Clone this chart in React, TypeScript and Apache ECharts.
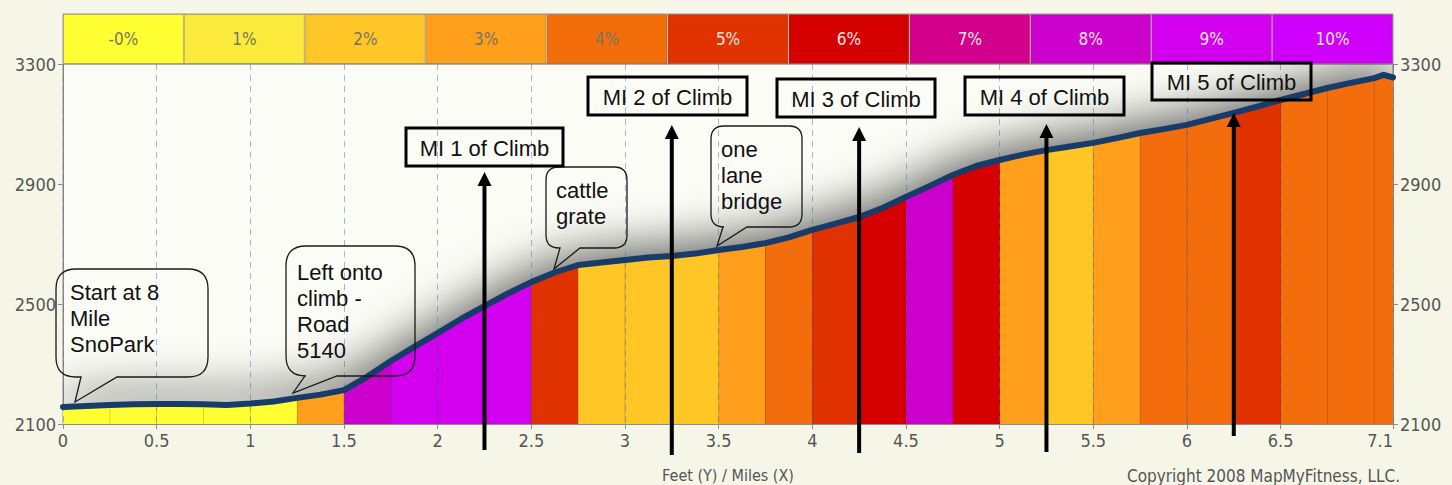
import React, { useEffect, useRef } from 'react';
import * as echarts from 'echarts';

// ---------------- data ----------------
const MILES = [
  0, 0.125, 0.25, 0.375, 0.5, 0.625, 0.75, 0.875, 1.0, 1.125, 1.25, 1.375, 1.5, 1.625, 1.75, 1.875,
  2.0, 2.125, 2.25, 2.375, 2.5, 2.625, 2.75, 2.875, 3.0, 3.125, 3.25, 3.375, 3.5, 3.625, 3.75, 3.875,
  4.0, 4.125, 4.25, 4.375, 4.5, 4.625, 4.75, 4.875, 5.0, 5.125, 5.25, 5.375, 5.5, 5.625, 5.75, 5.875,
  6.0, 6.125, 6.25, 6.375, 6.5, 6.625, 6.75, 6.875, 7.0, 7.05, 7.1,
];
const ELEVATION_FT = [
  2157, 2160, 2163, 2166, 2167, 2167, 2166, 2163, 2168, 2175, 2187, 2198, 2213, 2258, 2310, 2357,
  2403, 2450, 2493, 2535, 2573, 2605, 2630, 2638, 2647, 2655, 2660, 2668, 2680, 2690, 2703, 2722,
  2747, 2768, 2790, 2820, 2857, 2893, 2930, 2960, 2980, 2998, 3013, 3025, 3037, 3053, 3070, 3083,
  3097, 3117, 3137, 3158, 3180, 3200, 3220, 3237, 3253, 3264, 3255,
];
const GRADE_LABELS = ['-0%', '1%', '2%', '3%', '4%', '5%', '6%', '7%', '8%', '9%', '10%'];
const GRADE_COLORS = [
  '#ffff33', '#fbe93b', '#ffc627', '#ff9f1c', '#f36d0b', '#e03300',
  '#d50000', '#d2008b', '#cc00cc', '#d200ef', '#ce00fb',
];
const SEGMENT_MILES = 0.25;
// grade index (into GRADE_LABELS) of every quarter-mile segment
const SEGMENT_GRADES = [0, 0, 0, 0, 0, 3, 8, 9, 9, 9, 5, 2, 2, 2, 3, 4, 5, 6, 8, 6, 3, 2, 3, 4, 4, 5, 4, 4, 4];
const X_TICKS = [0, 0.5, 1, 1.5, 2, 2.5, 3, 3.5, 4, 4.5, 5, 5.5, 6, 6.5, 7.1];
const Y_TICKS = [2100, 2500, 2900, 3300];
const X_MIN = 0;
const X_MAX = 7.1;
const Y_MIN = 2100;
const Y_MAX = 3300;
const MILE_MARKERS = [2.25, 3.25, 4.25, 5.25, 6.25];
const MILE_LABELS = ['MI 1 of Climb', 'MI 2 of Climb', 'MI 3 of Climb', 'MI 4 of Climb', 'MI 5 of Climb'];
const CALLOUT_TEXTS = [
  ['Start at 8', 'Mile', 'SnoPark'],
  ['Left onto', 'climb -', 'Road', '5140'],
  ['cattle', 'grate'],
  ['one', 'lane', 'bridge'],
];
const X_NAME = 'Feet (Y) / Miles (X)';
const COPYRIGHT = 'Copyright 2008 MapMyFitness, LLC.';

// ---------------- layout (pixels) ----------------
const W = 1452;
const H = 485;
const FONT_C = '"DejaVu Sans Condensed", "DejaVu Sans", sans-serif';
const FONT_A = '"Liberation Sans", Arial, Helvetica, sans-serif';
// MI boxes: left, top, width, height ; arrows: tip y, bottom y
const MI_BOXES = [
  [406, 128, 157, 38],
  [588, 77, 159, 38],
  [777, 79, 158, 38],
  [965, 77, 159, 38],
  [1152, 63, 159, 37],
];
const ARROW_Y = [
  [172, 450],
  [125, 455],
  [127, 453],
  [124, 452],
  [113, 436],
];
// bubbles: left, top, width, height, radius, tail base a, tail base b, tip x, tip y, text x, first line centre y
const BUBBLES = [
  [56, 269, 152, 108, 20, 81, 117, 75, 402, 70, 292],
  [286, 246, 129, 130, 20, 305, 337, 293, 393, 297, 272],
  [546, 167, 81, 81, 13, 560, 580, 554, 269, 556, 190],
  [711, 126, 91, 101, 13, 723, 747, 717, 246, 721, 149],
];

function bubblePath(w: number, h: number, r: number, a: number, b: number, tx: number, ty: number) {
  return (
    `M${r} 0 L${w - r} 0 Q${w} 0 ${w} ${r} L${w} ${h - r} Q${w} ${h} ${w - r} ${h} ` +
    `L${b} ${h} L${tx} ${ty} L${a} ${h} L${r} ${h} Q0 ${h} 0 ${h - r} L0 ${r} Q0 0 ${r} 0 Z`
  );
}

export default function App() {
  const ref = useRef<HTMLDivElement>(null);

  useEffect(() => {
    if (!ref.current) return;
    const chart = echarts.init(ref.current, undefined, { renderer: 'svg' });

    const profile = MILES.map((m, i) => [m, ELEVATION_FT[i]]);
    const boundaries = profile.filter(
      ([m]) => m > X_MIN && m < X_MAX && Math.abs(m / SEGMENT_MILES - Math.round(m / SEGMENT_MILES)) < 1e-9
    );
    const pieces = SEGMENT_GRADES.map((g, i) => {
      const start = i * SEGMENT_MILES;
      const end = Math.min((i + 1) * SEGMENT_MILES, X_MAX);
      const p: any = { gte: start, color: GRADE_COLORS[g] };
      if (i === SEGMENT_GRADES.length - 1) p.lte = end + 0.001;
      else p.lt = end;
      return p;
    });

    const axisLabelStyle = {
      color: '#555', fontSize: 18, fontFamily: FONT_C,
      formatter: (v: number) => String(v),
    };

    const option: any = {
      animation: false,
      backgroundColor: '#f5f5e8',
      grid: [
        {
          left: 63, right: 59, top: 64, bottom: 61, show: true,
          backgroundColor: '#fcfcf6', borderColor: '#8c8c8c', borderWidth: 1,
          outerBoundsMode: 'none', containLabel: false,
        },
        {
          left: 63, right: 59, top: 14, height: 50, show: true,
          backgroundColor: 'transparent', borderColor: '#999', borderWidth: 1,
          outerBoundsMode: 'none', containLabel: false,
        },
      ],
      xAxis: [
        {
          gridIndex: 0, type: 'value', min: X_MIN, max: X_MAX, interval: 0.5, z: 3,
          name: X_NAME, nameLocation: 'middle', nameGap: 43,
          nameTextStyle: { color: '#555', fontSize: 16, fontFamily: FONT_C },
          axisLine: { show: true, lineStyle: { color: '#8c8c8c', width: 1 } },
          axisTick: { show: true, length: 5, customValues: X_TICKS, lineStyle: { color: '#8c8c8c' } },
          axisLabel: { ...axisLabelStyle, margin: 7, customValues: X_TICKS, alignMaxLabel: 'right' },
          splitLine: { show: true, lineStyle: { color: 'rgba(80,110,180,0.5)', width: 1, type: [6, 5] } },
        },
        {
          gridIndex: 1, type: 'category', data: GRADE_LABELS, show: false,
        },
      ],
      yAxis: [
        {
          gridIndex: 0, type: 'value', min: Y_MIN, max: Y_MAX, position: 'left',
          axisLine: { show: true, lineStyle: { color: '#8c8c8c', width: 1 } },
          axisTick: { show: true, length: 5, customValues: Y_TICKS, lineStyle: { color: '#8c8c8c' } },
          axisLabel: { ...axisLabelStyle, margin: 7, customValues: Y_TICKS },
          splitLine: { show: false },
        },
        {
          gridIndex: 0, type: 'value', min: Y_MIN, max: Y_MAX, position: 'right',
          axisLine: { show: true, lineStyle: { color: '#8c8c8c', width: 1 } },
          axisTick: { show: true, length: 5, customValues: Y_TICKS, lineStyle: { color: '#8c8c8c' } },
          axisLabel: { ...axisLabelStyle, margin: 7, customValues: Y_TICKS },
          splitLine: { show: false },
        },
        {
          gridIndex: 1, type: 'value', min: 0, max: 1, show: false,
        },
      ],
      visualMap: {
        type: 'piecewise', show: false, dimension: 0, seriesIndex: 0, pieces,
        outOfRange: { color: GRADE_COLORS[4] },
      },
      series: [
        {
          name: 'grade', type: 'line', xAxisIndex: 0, yAxisIndex: 0, data: profile,
          symbol: 'none', silent: true, z: 2,
          lineStyle: { width: 0 },
          areaStyle: {
            opacity: 1, shadowBlur: 44, shadowColor: 'rgba(0,0,0,0.58)', shadowOffsetY: -13,
          },
        },
        {
          name: 'segments', type: 'custom', xAxisIndex: 0, yAxisIndex: 0, data: boundaries,
          silent: true, z: 2,
          renderItem: (params: any, api: any) => {
            const top = api.coord([api.value(0), api.value(1)]);
            const bot = api.coord([api.value(0), Y_MIN]);
            return {
              type: 'line',
              shape: { x1: top[0], y1: top[1], x2: bot[0], y2: bot[1] },
              style: { stroke: 'rgba(0,0,0,0.16)', lineWidth: 1 },
            };
          },
        },
        {
          name: 'elevation', type: 'line', xAxisIndex: 0, yAxisIndex: 0, data: profile,
          symbol: 'none', silent: true, z: 5,
          lineStyle: { color: '#173c69', width: 6, join: 'round', cap: 'round' },
        },
        {
          name: 'legend', type: 'bar', xAxisIndex: 1, yAxisIndex: 2, silent: true,
          barCategoryGap: '0%',
          data: GRADE_COLORS.map((c, i) => ({
            value: 1,
            itemStyle: { color: c },
            label: { color: i < 5 ? '#76765e' : '#ffe6e6' },
          })),
          itemStyle: { borderColor: 'rgba(90,80,60,0.35)', borderWidth: 1 },
          label: {
            show: true, position: 'inside', formatter: (p: any) => p.name,
            fontSize: 17, fontFamily: FONT_C,
          },
        },
      ],
    };

    chart.setOption(option);

    const graphics: any[] = [];
    // bubbles
    BUBBLES.forEach((b, i) => {
      const [l, t, w, h, r, a, bb, tx, ty, txtX, firstY] = b;
      const name = 'bubble' + i;
      echarts.graphic.registerShape(
        name,
        echarts.graphic.extendPath(bubblePath(w, h, r, a - l, bb - l, tx - l, ty - t), {}) as any
      );
      graphics.push({
        type: name, x: l, y: t, z: 100, silent: true,
        style: { fill: 'none', stroke: '#1a1a1a', lineWidth: 1.3 },
      });
      graphics.push({
        type: 'text', z: 101, silent: true,
        style: {
          text: CALLOUT_TEXTS[i].join('\n'), x: txtX, y: firstY - 13,
          font: `22px ${FONT_A}`, lineHeight: 26, fill: '#111', verticalAlign: 'top', align: 'left',
        },
      });
    });
    // arrows & MI boxes
    MILE_MARKERS.forEach((m, i) => {
      const px = chart.convertToPixel({ gridIndex: 0 }, [m, Y_MIN]) as number[];
      const x = px[0];
      const [tip, bottom] = ARROW_Y[i];
      graphics.push({
        type: 'line', z: 100, silent: true,
        shape: { x1: x, y1: bottom, x2: x, y2: tip + 10 },
        style: { stroke: '#000', lineWidth: 4 },
      });
      graphics.push({
        type: 'polygon', z: 100, silent: true,
        shape: { points: [[x - 7, tip + 14], [x, tip], [x + 7, tip + 14]] },
        style: { fill: '#000' },
      });
      const [bl, bt, bw, bh] = MI_BOXES[i];
      graphics.push({
        type: 'rect', z: 100, silent: true,
        shape: { x: bl, y: bt, width: bw, height: bh },
        style: { fill: 'none', stroke: '#000', lineWidth: 3 },
      });
      graphics.push({
        type: 'text', z: 101, silent: true,
        style: {
          text: MILE_LABELS[i], x: bl + bw / 2, y: bt + bh / 2 + 1,
          font: `22px ${FONT_A}`, fill: '#111', align: 'center', verticalAlign: 'middle',
        },
      });
    });
    graphics.push({
      type: 'text', z: 100, silent: true,
      style: {
        text: COPYRIGHT, x: 1400, y: 476, align: 'right', verticalAlign: 'middle',
        font: `17px ${FONT_C}`, fill: '#555',
      },
    });

    chart.setOption({ graphic: graphics });

    return () => {
      chart.dispose();
    };
  }, []);

  return (
    <div
      ref={ref}
      style={{ position: 'absolute', left: 0, top: 0, width: W, height: H }}
    />
  );
}
